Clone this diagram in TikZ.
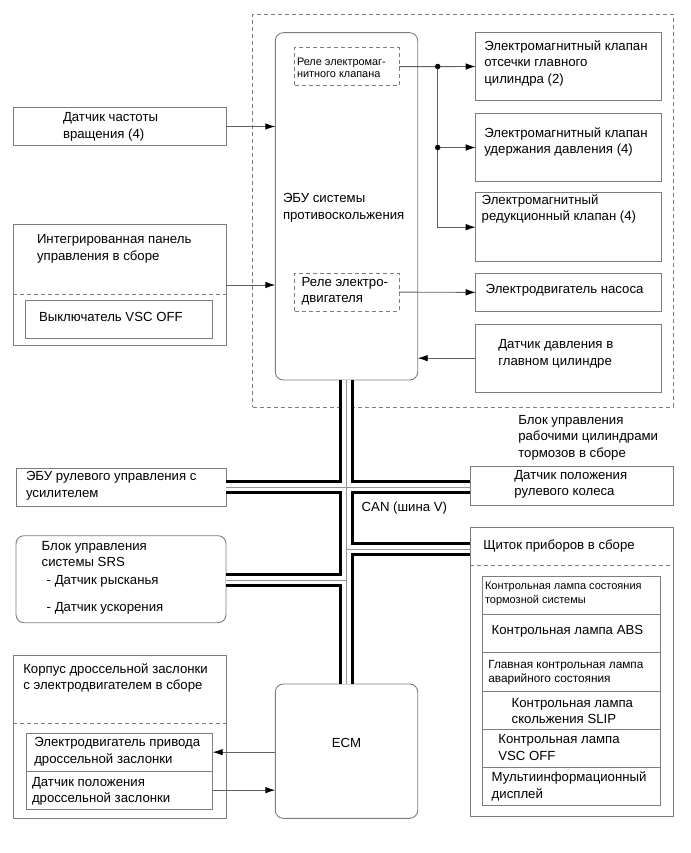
\documentclass[tikz,border=0pt]{standalone}
\usepackage{fontspec}
\setmainfont{Liberation Sans}
\usetikzlibrary{arrows.meta,fit}
\definecolor{bord}{RGB}{125,125,125}
\definecolor{wire}{RGB}{95,95,95}
\definecolor{busgrey}{RGB}{150,150,150}
\begin{document}
\begin{tikzpicture}[x=1pt,y=-1pt,
  box/.style={draw=bord, line width=0.9pt, inner sep=0pt, outer sep=0pt},
  rbox/.style={box, rounded corners=8pt},
  dbox/.style={box, dash pattern=on 4pt off 3pt},
  dline/.style={draw=bord, line width=0.9pt, dash pattern=on 4pt off 3pt},
  txt/.style={inner sep=0pt, outer sep=0pt, align=left, anchor=west, font=\fontsize{13.2}{16.5}\selectfont},
  stxt/.style={txt, font=\fontsize{11}{14.3}\selectfont},
  s2txt/.style={txt, font=\fontsize{11.8}{14.3}\selectfont},
  r2txt/.style={txt, font=\fontsize{13.2}{15.7}\selectfont},
  rtxt/.style={txt, font=\fontsize{10.9}{11.7}\selectfont},
  arr/.style={draw=wire, line width=0.9pt, -{Latex[length=10pt,width=6.5pt,color=black]}},
  dot/.style={circle, fill=black, inner sep=0pt, minimum size=5.5pt},
  busA/.style={draw=black, line width=14.5pt},
  busB/.style={draw=white, line width=8.5pt},
  busC/.style={draw=busgrey, line width=0.8pt}
]
\useasboundingbox (0,0) rectangle (690,853);

% outer dashed frame
\node[dbox, fit={(252.7,14.3) (673,407)}] (frame) {};

% ABS ECU
\node[rbox, fit={(275.3,32.7) (417.7,380)}] (ecu) {};
\node[txt] (tecu) at (283,208) {ЭБУ системы\\противоскольжения};
\node[dbox, fit={(294.7,47.7) (399,85.7)}] (r1) {};
\node[rtxt] (tr1) at (297,67.5) {Реле электромаг-\\нитного клапана};
\node[dbox, fit={(294.7,273.3) (399,311)}] (r2) {};
\node[r2txt] (tr2) at (301.7,291.2) {Реле электро-\\двигателя};

% right actuators
\node[box, fit={(475.7,32.3) (661.7,100.7)}] (v1) {};
\node[txt] (tv1) at (484.3,63.3) {Электромагнитный клапан\\отсечки главного\\цилиндра (2)};
\node[box, fit={(475.7,113.3) (661.7,181.7)}] (v2) {};
\node[txt] (tv2) at (484.3,142) {Электромагнитный клапан\\удержания давления (4)};
\node[box, fit={(475.7,192.7) (661.7,261.7)}] (v3) {};
\node[txt] (tv3) at (481.7,209.2) {Электромагнитный\\редукционный клапан (4)};
\node[box, fit={(475.7,273.7) (661.7,311)}] (v4) {};
\node[txt] (tv4) at (485.7,290.5) {Электродвигатель насоса};
\node[box, fit={(475.7,324) (661.7,392.3)}] (v5) {};
\node[txt] (tv5) at (498.3,353.7) {Датчик давления в\\главном цилиндре};

% left inputs
\node[box, fit={(13.3,107.3) (226,145.7)}] (ds) {};
\node[txt] (tds) at (63,127) {Датчик частоты\\вращения (4)};
\node[box, fit={(13.3,224.3) (226,345.7)}] (ip) {};
\draw[dline] (ip.west |- 0,294.3) -- (ip.east |- 0,294.3);
\node[txt] (tip) at (37,249) {Интегрированная панель\\управления в сборе};
\node[box, fit={(25.3,300) (212.7,338.3)}] (vsc) {};
\node[txt] (tvsc) at (39,317) {Выключатель VSC OFF};
\coordinate (ipout) at (226,285);

% arrows around ECU
\coordinate (d1) at (437.7,66.5);
\draw[arr] (r1.east) -- (v1.west);
\draw[arr] (d1) |- (v3.west);
\draw[arr] (d1 |- v2.west) -- (v2.west);
\node[dot] (dot1) at (d1) {};
\node[dot] (dot2) at (d1 |- v2.west) {};
\draw[arr] (r2.east) -- (v4.west);
\draw[arr] (v5.west) -- (v5.west -| ecu.east);
\draw[arr] (ds.east) -- (ds.east -| ecu.west);
\draw[arr] (ipout) -- (ipout -| ecu.west);

% CAN participants
\node[box, fit={(16,468.3) (226,506.7)}] (eps) {};
\node[txt] (teps) at (26,486) {ЭБУ рулевого управления с\\усилителем};
\node[rbox, fit={(16,535.7) (226,622.7)}] (srs) {};
\node[txt] (tsrs) at (41.7,554) {Блок управления\\системы SRS};
\node[txt] (tyaw) at (46.7,581.7) {- Датчик рысканья};
\node[txt] (tacc) at (46.7,608.3) {- Датчик ускорения};
\node[box, fit={(470,466.7) (673.3,505)}] (sw) {};
\node[txt] (tsw) at (514.3,484.5) {Датчик положения\\рулевого колеса};
\node[txt] (tbrk) at (518.3,437.7) {Блок управления\\рабочими цилиндрами\\тормозов в сборе};
\node[txt] (tcan) at (361.7,508.3) {CAN (шина V)};

% ECM
\node[rbox, fit={(275.3,684) (417.7,818.3)}] (ecm) {};
\node[txt, anchor=center] (tecm) at (346.5,743.3) {ECM};

% throttle body
\node[box, fit={(13.3,655) (226,818.3)}] (tb) {};
\node[txt] (ttb) at (23.3,678) {Корпус дроссельной заслонки\\с электродвигателем в сборе};
\draw[dline] (tb.west |- 0,723.3) -- (tb.east |- 0,723.3);
\node[box, fit={(26.7,733.3) (212.7,771)}] (tm) {};
\node[txt] (ttm) at (34.3,751.7) {Электродвигатель привода\\дроссельной заслонки};
\node[box, fit={(26.7,771) (212.7,809.3)}] (tp) {};
\node[txt] (ttp) at (32,791.3) {Датчик положения\\дроссельной заслонки};
\draw[arr] (ecm.west |- tm.east) -- (tm.east);
\draw[arr] (tp.east) -- (tp.east -| ecm.west);

% combination meter
\node[box, fit={(470,527.7) (673.3,816.7)}] (cm) {};
\node[txt] (tcm) at (483.3,545.7) {Щиток приборов в сборе};
\draw[dline] (cm.west |- 0,565) -- (cm.east |- 0,565);
\node[box, fit={(482.7,576.7) (660.7,614.3)}] (l1) {};
\node[box, fit={(482.7,614.3) (660.7,652.7)}] (l2) {};
\node[box, fit={(482.7,652.7) (660.7,691)}] (l3) {};
\node[box, fit={(482.7,691) (660.7,729.3)}] (l4) {};
\node[box, fit={(482.7,729.3) (660.7,767.7)}] (l5) {};
\node[box, fit={(482.7,767.7) (660.7,805.7)}] (l6) {};
\node[stxt] (tl1) at (485,594) {Контрольная лампа состояния\\тормозной системы};
\node[txt] (tl2) at (491.7,631) {Контрольная лампа ABS};
\node[s2txt] (tl3) at (488.3,673) {Главная контрольная лампа\\аварийного состояния};
\node[txt] (tl4) at (511.7,711.2) {Контрольная лампа\\скольжения SLIP};
\node[txt] (tl5) at (498.3,747.5) {Контрольная лампа\\VSC OFF};
\node[txt] (tl6) at (491.7,786.3) {Мультиинформационный\\дисплей};

% CAN bus
\coordinate (jA) at (346.5,487);
\coordinate (jB) at (346.5,549);
\coordinate (jC) at (346.5,580);
\foreach \s in {busA,busB,busC}{
  \draw[\s] (ecu.south) -- (ecm.north);
  \draw[\s] (eps.east |- jA) -- (jA);
  \draw[\s] (jA) -- (jA -| sw.west);
  \draw[\s] (jB) -- (jB -| cm.west);
  \draw[\s] (srs.east |- jC) -- (jC);
}
\end{tikzpicture}
\end{document}
